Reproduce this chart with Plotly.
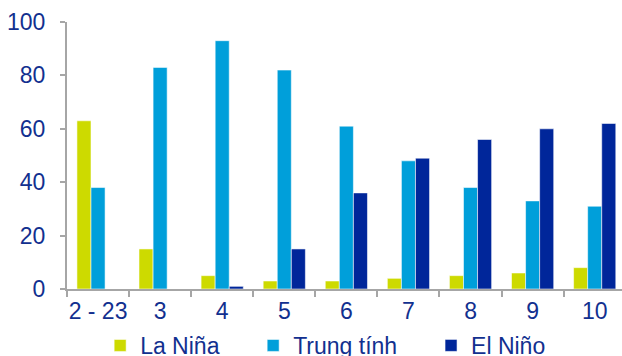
import plotly.graph_objects as go

categories = ["2 - 23", "3", "4", "5", "6", "7", "8", "9", "10"]
la_nina = [63, 15, 5, 3, 3, 4, 5, 6, 8]
trung_tinh = [38, 83, 93, 82, 61, 48, 38, 33, 31]
el_nino = [0, 0, 1, 15, 36, 49, 56, 60, 62]
series_names = ["La Niña", "Trung tính", "El Niño"]
colors = ["#CDDA00", "#009FDA", "#00269A"]
text_color = "#12308F"
axis_color = "#A6A6A6"
FONT = "Liberation Sans, Arial, sans-serif"

fig = go.Figure()
legends = ["legend", "legend2", "legend3"]
for name, vals, col, lg in zip(series_names, [la_nina, trung_tinh, el_nino], colors, legends):
    fig.add_trace(go.Bar(
        x=categories, y=vals, name=name, legend=lg, showlegend=True,
        marker=dict(color=col, line=dict(color="rgba(255,255,255,0.55)", width=1)),
    ))

leg_common = dict(orientation="h", xanchor="left", yanchor="top",
                  xref="container", yref="container", y=0.09,
                  font=dict(family=FONT, size=23, color=text_color),
                  bgcolor="rgba(0,0,0,0)", itemwidth=30)
fig.update_layout(
    width=622, height=356, showlegend=True,
    margin=dict(l=67, r=0, t=22, b=67, autoexpand=False),
    plot_bgcolor="white", paper_bgcolor="white",
    barmode="group", bargap=0.32, bargroupgap=0,
    font=dict(family=FONT, size=23, color=text_color),
    legend=dict(x=0.161, **leg_common),
    legend2=dict(x=0.407, **leg_common),
    legend3=dict(x=0.693, **leg_common),
    xaxis=dict(
        range=[-0.5, 8.44], showline=True, linecolor=axis_color, linewidth=2,
        ticks="outside", tickson="boundaries", ticklen=6, tickcolor=axis_color, tickwidth=2,
        tickangle=0, automargin=False,
        tickfont=dict(family=FONT, size=23, color=text_color), showgrid=False,
    ),
    yaxis=dict(
        range=[0, 100], dtick=20, showline=True, linecolor=axis_color, linewidth=2,
        ticks="outside", ticklen=5, tickcolor=axis_color, tickwidth=2, automargin=False,
        tickfont=dict(family=FONT, size=23, color=text_color), showgrid=False,
        zeroline=False, ticklabelstandoff=10,
    ),
)

fig.write_html("out.html")
